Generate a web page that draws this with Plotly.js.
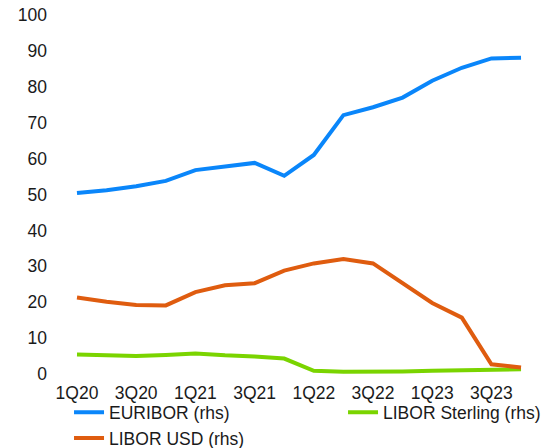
<!DOCTYPE html>
<html>
<head>
<meta charset="utf-8">
<script src="https://cdn.plot.ly/plotly-3.0.1.min.js"></script>
<style>html,body{margin:0;padding:0;background:#fff;}#chart{width:557px;height:448px;}</style>
</head>
<body>
<div id="chart"></div>
<script>
const quarters = ['1Q20','2Q20','3Q20','4Q20','1Q21','2Q21','3Q21','4Q21','1Q22','2Q22','3Q22','4Q22','1Q23','2Q23','3Q23','4Q23'];
const tickLabels = ['1Q20','3Q20','1Q21','3Q21','1Q22','3Q22','1Q23','3Q23'];
const euribor = [50.4,51.2,52.3,53.8,56.8,57.8,58.8,55.2,61.0,72.1,74.3,77.0,81.7,85.3,87.9,88.1];
const liborSterling = [5.4,5.2,5.0,5.3,5.7,5.2,4.9,4.3,0.9,0.6,0.6,0.7,0.9,1.0,1.2,1.3];
const liborUsd = [21.3,20.1,19.2,19.1,22.8,24.7,25.3,28.8,30.8,32.0,30.8,25.3,19.8,15.7,2.7,1.8];

const font = {family: '"Liberation Sans", Arial, sans-serif', size: 17.5, color: '#1a1a1a'};
const traces = [
  {x: quarters, y: euribor, name: 'EURIBOR (rhs)', type: 'scatter', mode: 'lines', line: {color: '#0A86FA', width: 4}},
  {x: quarters, y: liborSterling, name: 'LIBOR Sterling (rhs)', type: 'scatter', mode: 'lines', line: {color: '#7AD400', width: 4}},
  {x: quarters, y: liborUsd, name: 'LIBOR USD (rhs)', type: 'scatter', mode: 'lines', line: {color: '#DF5C0F', width: 4}}
];
const layout = {
  width: 557, height: 448,
  margin: {l: 70, r: 0, t: 15, b: 74, autoexpand: false},
  paper_bgcolor: '#fff', plot_bgcolor: '#fff',
  font: font,
  showlegend: true,
  xaxis: {type: 'category', range: [-0.236, 16.215], tickvals: tickLabels, ticktext: tickLabels,
          showgrid: false, zeroline: false, showline: false, ticks: '', ticklabelstandoff: 6, tickfont: font},
  yaxis: {range: [0, 100], dtick: 10, showgrid: false, zeroline: false, showline: false, ticks: '',
          ticklabelstandoff: 22, tickfont: font},
  legend: {orientation: 'h', x: -0.002, xanchor: 'left', y: -0.057, yanchor: 'top',
           entrywidth: 229, font: font, bgcolor: 'rgba(0,0,0,0)', tracegroupgap: 0}
};
Plotly.newPlot('chart', traces, layout, {staticPlot: true});
</script>
</body>
</html>
